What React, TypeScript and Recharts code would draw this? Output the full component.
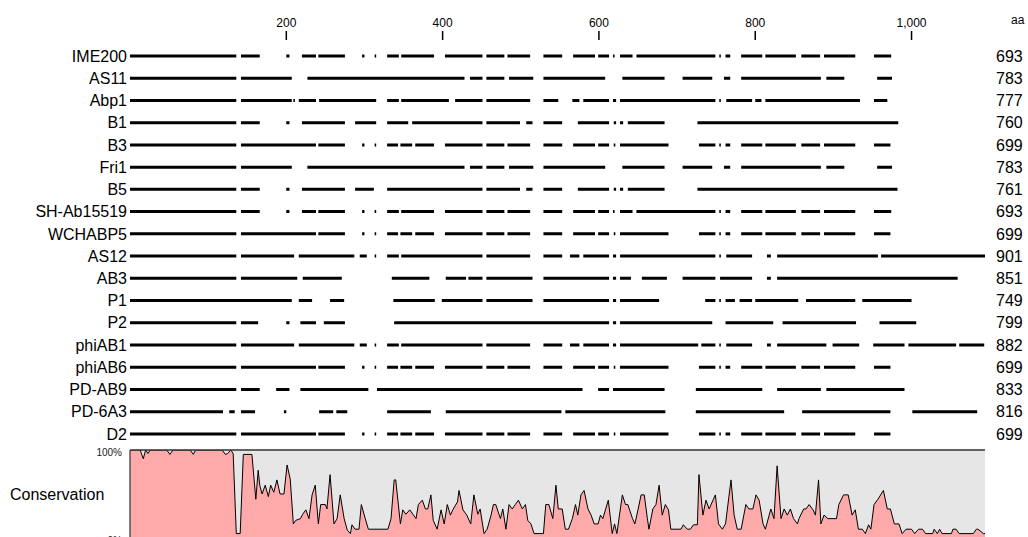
import React from 'react';
import {
  LineChart,
  Line,
  AreaChart,
  Area,
  XAxis,
  YAxis,
  CartesianGrid,
  ReferenceLine,
} from 'recharts';

const FONT = '"Liberation Sans", Arial, Helvetica, sans-serif';

type Seg = [number, number];

const rowNames = [
  'IME200', 'AS11', 'Abp1', 'B1', 'B3', 'Fri1', 'B5', 'SH-Ab15519', 'WCHABP5',
  'AS12', 'AB3', 'P1', 'P2', 'phiAB1', 'phiAB6', 'PD-AB9', 'PD-6A3', 'D2',
];
const rowLengths = [693, 783, 777, 760, 699, 783, 761, 693, 699, 901, 851, 749, 799, 882, 699, 833, 816, 699];
const positionTicks = [200, 400, 600, 800, 1000];
const alignmentEnd = 1094;

// aligned blocks per sequence (alignment columns)
const segIME200: Seg[] = [
  [0, 136], [142, 166], [200, 204], [220, 238], [241, 275], [297, 300], [313, 315], [329, 344],
  [347, 389], [403, 451], [456, 479], [483, 512], [529, 553], [567, 595], [599, 613], [618, 620],
  [627, 643], [648, 749], [754, 756], [762, 768], [782, 809], [813, 852], [859, 883], [888, 928], [952, 974],
];
const segAS11: Seg[] = [
  [0, 136], [142, 207], [227, 428], [435, 451], [456, 479], [485, 516], [529, 608], [630, 684],
  [707, 745], [760, 768], [782, 884], [891, 914], [956, 975],
];
const segAbp1: Seg[] = [
  [0, 136], [142, 207], [209, 211], [216, 238], [242, 315], [329, 344], [347, 408], [416, 451],
  [456, 512], [529, 548], [566, 575], [580, 613], [618, 622], [627, 749], [754, 756], [763, 796],
  [800, 808], [813, 934], [952, 969],
];
const segB1: Seg[] = [
  [0, 136], [142, 166], [200, 204], [220, 275], [288, 315], [329, 356], [361, 451], [456, 499],
  [507, 515], [529, 553], [573, 613], [619, 622], [627, 631], [637, 684], [726, 983],
];
const segB3: Seg[] = [
  [0, 136], [142, 238], [241, 275], [297, 300], [313, 315], [329, 343], [346, 361], [365, 389],
  [403, 451], [456, 479], [483, 512], [529, 553], [567, 595], [599, 613], [619, 621], [627, 689],
  [728, 749], [754, 756], [762, 768], [782, 809], [813, 852], [859, 883], [888, 928], [952, 973],
];
const segFri1: Seg[] = segAS11;
const segB5: Seg[] = [
  [0, 136], [142, 166], [200, 204], [220, 275], [288, 312], [329, 451], [456, 499], [507, 515],
  [529, 553], [573, 613], [619, 622], [627, 631], [637, 684], [726, 982],
];
const segSH: Seg[] = segIME200;
const segWCHABP5: Seg[] = segB3;
const segAS12: Seg[] = [
  [0, 136], [142, 210], [216, 287], [294, 303], [313, 315], [329, 344], [347, 451], [456, 512],
  [529, 553], [563, 575], [580, 613], [618, 622], [627, 749], [754, 756], [763, 796], [815, 820],
  [828, 957], [961, 1094],
];
const segAB3: Seg[] = [
  [0, 136], [142, 214], [221, 271], [335, 383], [404, 430], [433, 451], [456, 515], [529, 613],
  [618, 622], [627, 641], [655, 687], [707, 749], [755, 796], [815, 820], [828, 1059],
];
const segP1: Seg[] = [
  [0, 207], [216, 233], [256, 274], [337, 390], [399, 451], [456, 515], [529, 613], [618, 622],
  [627, 677], [736, 749], [754, 756], [762, 774], [780, 796], [800, 855], [865, 928], [937, 1000],
];
const segP2: Seg[] = [
  [0, 136], [142, 164], [200, 204], [218, 238], [248, 275], [338, 613], [618, 622], [627, 745],
  [762, 823], [835, 929], [959, 1006],
];
const segPhiAB1: Seg[] = [
  [0, 136], [142, 210], [216, 287], [294, 303], [313, 315], [329, 344], [347, 451], [456, 512],
  [529, 553], [563, 575], [580, 613], [618, 622], [627, 727], [731, 749], [754, 756], [763, 796],
  [815, 820], [828, 891], [899, 933], [951, 991], [996, 1057], [1061, 1093],
];
const segPhiAB6: Seg[] = segB3;
const segPDAB9: Seg[] = [
  [0, 136], [142, 166], [187, 204], [218, 305], [316, 579], [599, 613], [618, 684], [724, 809],
  [828, 884], [891, 991],
];
const segPD6A3: Seg[] = [
  [0, 119], [127, 134], [142, 160], [197, 200], [242, 260], [264, 278], [329, 385], [404, 552],
  [557, 685], [724, 837], [860, 973], [1001, 1084],
];
const segD2: Seg[] = segB3;

const rowSegments: Seg[][] = [
  segIME200, segAS11, segAbp1, segB1, segB3, segFri1, segB5, segSH, segWCHABP5,
  segAS12, segAB3, segP1, segP2, segPhiAB1, segPhiAB6, segPDAB9, segPD6A3, segD2,
];

// conservation profile: [alignment column, percent]
const conservation: [number, number][] = [
  [0, 100], [8, 100], [13, 100], [17, 90], [20, 100], [23, 96], [26, 100], [47, 100], [51, 95],
  [55, 100], [77, 100], [81, 95], [84, 100], [118, 100], [122, 95], [125, 96], [129, 100], [132, 96],
  [136, 5], [141, 5], [145, 95], [156, 95], [161, 44], [164, 77], [166, 60], [169, 50], [173, 60],
  [177, 47], [180, 60], [184, 52], [188, 66], [192, 50], [197, 50], [201, 83], [205, 67], [209, 16],
  [212, 20], [218, 22], [221, 27], [225, 32], [229, 22], [233, 49], [237, 60], [241, 16], [244, 38],
  [250, 38], [252, 33], [256, 72], [261, 16], [265, 22], [269, 49], [274, 22], [278, 9], [282, 5],
  [284, 15], [288, 10], [293, 10], [296, 38], [301, 22], [305, 10], [330, 10], [334, 22], [338, 66],
  [340, 66], [346, 16], [349, 32], [353, 27], [358, 32], [362, 27], [366, 22], [369, 38], [374, 43],
  [378, 33], [381, 33], [385, 49], [388, 20], [393, 10], [398, 32], [402, 16], [406, 38], [410, 26],
  [413, 32], [419, 41], [421, 54], [426, 32], [431, 26], [436, 16], [440, 49], [445, 27], [448, 33],
  [453, 5], [457, 10], [462, 26], [465, 38], [468, 38], [474, 22], [477, 33], [481, 10], [485, 38],
  [489, 33], [493, 38], [497, 43], [502, 33], [506, 38], [509, 20], [513, 16], [517, 5], [529, 5],
  [532, 38], [536, 38], [541, 22], [545, 60], [548, 33], [553, 33], [557, 10], [561, 10], [566, 22],
  [570, 38], [573, 26], [577, 49], [581, 54], [586, 33], [590, 26], [594, 16], [599, 16], [602, 26],
  [605, 22], [612, 43], [617, 5], [620, 16], [623, 5], [630, 49], [634, 38], [637, 38], [643, 22],
  [646, 16], [650, 32], [654, 49], [658, 49], [662, 22], [664, 10], [669, 33], [673, 38], [677, 60],
  [681, 26], [685, 38], [689, 32], [692, 10], [705, 10], [708, 15], [713, 10], [717, 10], [721, 15],
  [726, 15], [728, 72], [733, 26], [737, 43], [741, 33], [746, 43], [749, 49], [753, 16], [758, 10],
  [762, 16], [769, 66], [773, 26], [777, 10], [782, 10], [788, 38], [792, 33], [797, 33], [801, 49],
  [805, 43], [810, 16], [813, 10], [820, 33], [824, 22], [828, 82], [833, 22], [837, 33], [841, 26],
  [845, 33], [849, 22], [854, 16], [856, 22], [862, 33], [865, 33], [869, 38], [874, 32], [877, 26],
  [881, 66], [884, 16], [888, 26], [893, 22], [904, 22], [907, 38], [913, 49], [919, 49], [924, 26],
  [928, 32], [932, 10], [937, 10], [941, 5], [945, 15], [948, 10], [952, 38], [957, 44], [964, 54],
  [969, 33], [973, 33], [978, 16], [984, 16], [988, 5], [993, 10], [1000, 10], [1004, 5], [1009, 10],
  [1014, 10], [1018, 5], [1027, 5], [1029, 10], [1033, 5], [1036, 10], [1039, 5], [1051, 5], [1053, 10],
  [1057, 10], [1061, 5], [1079, 5], [1083, 10], [1085, 10], [1092, 5], [1094, 5],
];

const rowTicks = rowNames.map((_, i) => i);

// break each row into drawable runs, nulls split the line
const rowData = rowSegments.map((segs, row) => {
  const pts: { pos: number; v: number | null }[] = [];
  segs.forEach(([a, b]) => {
    pts.push({ pos: a, v: row }, { pos: b, v: row }, { pos: b, v: null });
  });
  return pts;
});

const conservationData = conservation.map(([pos, c]) => ({ pos, c }));

const formatPos = (v: number) => v.toLocaleString('en-US');

export default function App() {
  return (
    <div
      style={{
        position: 'fixed',
        left: 0,
        top: 0,
        width: 1028,
        height: 537,
        overflow: 'hidden',
        background: '#fff',
        fontFamily: FONT,
      }}
    >
      <LineChart width={1028} height={445} margin={{ top: 0, right: 0, bottom: 0, left: 0 }}>
        <XAxis
          type="number"
          dataKey="pos"
          orientation="top"
          domain={[0, alignmentEnd]}
          allowDataOverflow
          ticks={positionTicks}
          interval={0}
          tickFormatter={formatPos}
          height={40}
          axisLine={false}
          tickSize={9}
          tickMargin={4}
          tickLine={{ stroke: '#000', strokeWidth: 1.5 }}
          tick={{ fill: '#000', fontSize: 12, fontFamily: FONT }}
          label={{ value: 'aa', position: 'right', offset: 26, fill: '#000', fontSize: 12, fontFamily: FONT }}
        />
        <YAxis
          yAxisId="names"
          type="number"
          reversed
          domain={[-0.72, 17.5]}
          allowDataOverflow
          ticks={rowTicks}
          interval={0}
          tickFormatter={(i: number) => rowNames[i] ?? ''}
          width={130}
          axisLine={false}
          tickLine={false}
          tickSize={0}
          tickMargin={3}
          tick={{ fill: '#000', fontSize: 16, fontFamily: FONT }}
        />
        <YAxis
          yAxisId="lengths"
          orientation="right"
          type="number"
          reversed
          domain={[-0.72, 17.5]}
          allowDataOverflow
          ticks={rowTicks}
          interval={0}
          tickFormatter={(i: number) => String(rowLengths[i] ?? '')}
          width={43}
          axisLine={false}
          tickLine={false}
          tickSize={0}
          tickMargin={11}
          tick={{ fill: '#000', fontSize: 16, fontFamily: FONT }}
        />
        {rowData.map((pts, i) => (
          <Line
            key={rowNames[i]}
            yAxisId={i === 0 ? 'lengths' : 'names'}
            data={pts}
            dataKey="v"
            type="linear"
            stroke="#000"
            strokeWidth={3}
            dot={false}
            activeDot={false}
            connectNulls={false}
            isAnimationActive={false}
          />
        ))}
      </LineChart>
      <AreaChart
        width={1028}
        height={100}
        data={conservationData}
        margin={{ top: 5, right: 43, bottom: 7, left: 0 }}
      >
        <CartesianGrid fill="#e6e6e6" stroke="none" horizontal={false} vertical={false} />
        <XAxis type="number" dataKey="pos" domain={[0, alignmentEnd]} allowDataOverflow hide />
        <YAxis
          type="number"
          domain={[0, 100]}
          allowDataOverflow
          ticks={[0, 100]}
          interval={0}
          tickFormatter={(v: number) => `${v}%`}
          width={130}
          axisLine={{ stroke: '#555', strokeWidth: 1.5 }}
          tickLine={false}
          tickSize={0}
          tickMargin={8}
          tick={{ fill: '#222', fontSize: 10, fontFamily: FONT, dy: 2 }}
          label={{ value: 'Conservation', position: 'insideLeft', offset: 10, fill: '#000', fontSize: 16, fontFamily: FONT }}
        />
        <Area
          type="linear"
          dataKey="c"
          stroke="#000"
          strokeWidth={1}
          fill="#ffaaaa"
          fillOpacity={1}
          dot={false}
          activeDot={false}
          isAnimationActive={false}
        />
        <ReferenceLine y={100} stroke="#333" strokeWidth={1.5} />
      </AreaChart>
    </div>
  );
}
